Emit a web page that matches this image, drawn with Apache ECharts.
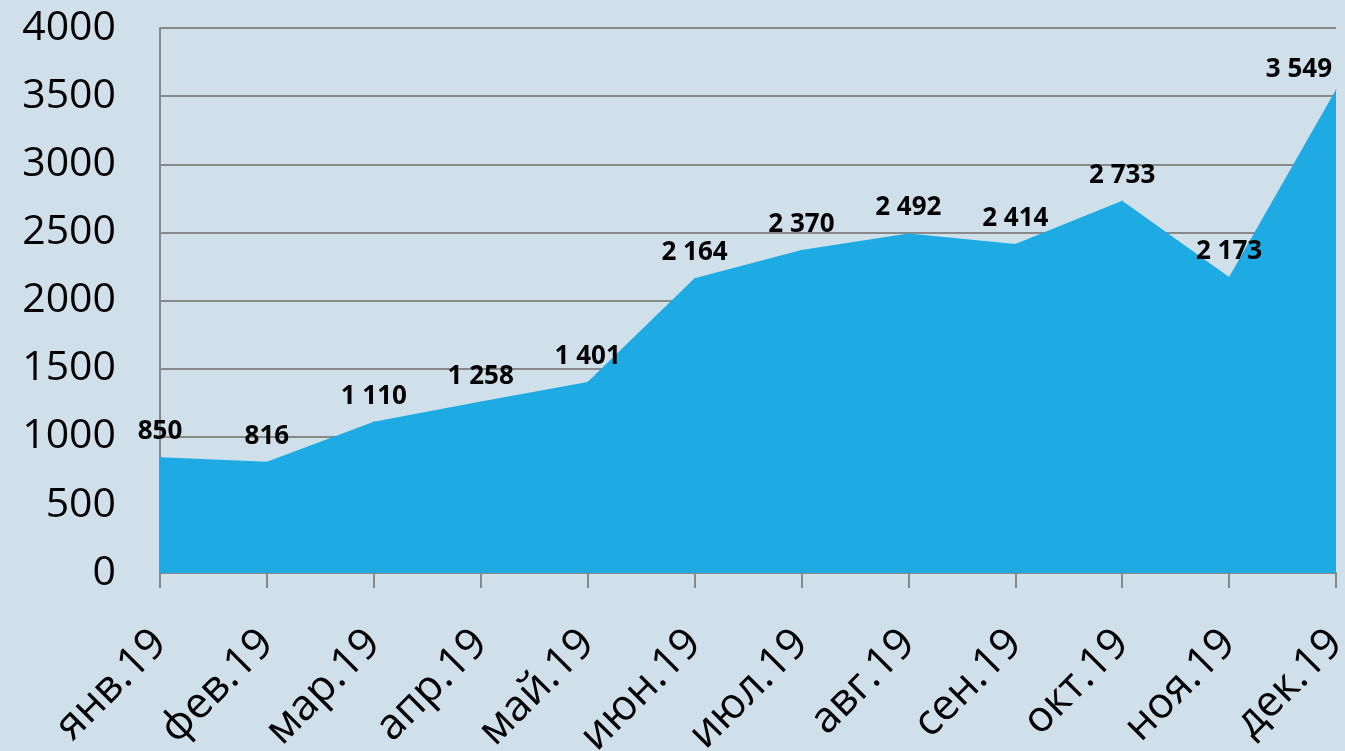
<!DOCTYPE html>
<html><head><meta charset="utf-8">
<script src="https://cdn.jsdelivr.net/npm/echarts@6/dist/echarts.min.js"></script>
<style>html,body{margin:0;padding:0;background:#cfe0ea;}#c{width:1345px;height:751px;}</style>
</head><body><div id="c"></div>
<script>
const categories = ['янв.19','фев.19','мар.19','апр.19','май.19','июн.19','июл.19','авг.19','сен.19','окт.19','ноя.19','дек.19'];
const values = [850, 816, 1110, 1258, 1401, 2164, 2370, 2492, 2414, 2733, 2173, 3549];
const yTicks = [0, 500, 1000, 1500, 2000, 2500, 3000, 3500, 4000];

function fmt(v){ return String(v).replace(/\B(?=(\d{3})+(?!\d))/g, ' '); }

const chart = echarts.init(document.getElementById('c'), null, {renderer:'canvas'});
chart.setOption({
  backgroundColor: '#cfe0ea',
  animation: false,
  grid: {left: 160, right: 9, top: 28, bottom: 178, containLabel: false, outerBoundsMode: 'none'},
  xAxis: {
    type: 'category', data: categories, boundaryGap: false,
    axisLine: {show: true, lineStyle: {color: '#898989', width: 2}},
    axisTick: {show: true, length: 15, alignWithLabel: true, lineStyle: {color: '#898989', width: 2}},
    axisLabel: {rotate: 45, margin: 64, fontFamily: 'Open Sans', fontSize: 43, color: '#000', interval: 0},
    splitLine: {show: false}
  },
  yAxis: {
    type: 'value', min: yTicks[0], max: yTicks[yTicks.length-1], interval: 500,
    axisLine: {show: true, lineStyle: {color: '#898989', width: 2}},
    axisTick: {show: false},
    axisLabel: {margin: 44, fontFamily: 'Open Sans', fontSize: 41, color: '#000', formatter: v => String(v)},
    splitLine: {show: true, lineStyle: {color: '#898989', width: 2}}
  },
  series: [{
    type: 'line', data: values.map((v, i) => i === values.length - 1
      ? {value: v, label: {align: 'right', offset: [-4, 6]}} : v),
    symbol: 'circle', symbolSize: 1, showSymbol: true,
    itemStyle: {color: '#1eabe3'},
    lineStyle: {width: 0, color: '#1eabe3'},
    areaStyle: {color: '#1eabe3', opacity: 1},
    z: 3,
    label: {show: true, position: 'top', distance: 12, fontFamily: 'Open Sans', fontWeight: 'bold', fontSize: 26, color: '#000',
      formatter: p => fmt(p.value)}
  }]
});
</script></body></html>
